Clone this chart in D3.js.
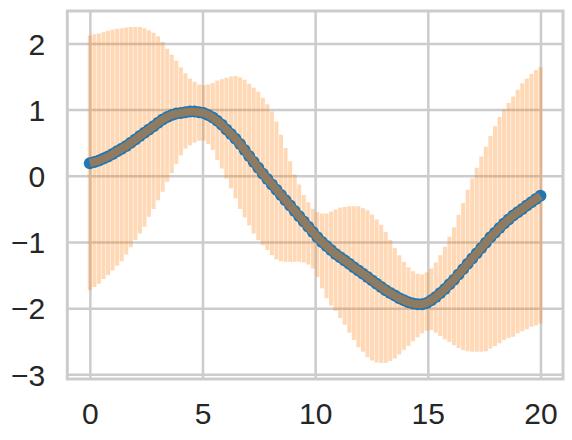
<!DOCTYPE html>
<html>
<head>
<meta charset="utf-8">
<script src="https://cdn.jsdelivr.net/npm/d3@7"></script>
<style>
  html, body { margin: 0; padding: 0; background: #ffffff; }
  svg { display: block; }
</style>
</head>
<body>
<svg id="chart" width="572" height="440"></svg>
<script>
// ---- data ----
const xValues = [0,0.202,0.404,0.606,0.808,1.010,1.212,1.414,1.616,1.818,2.020,2.222,2.424,2.626,2.828,3.030,3.232,3.434,3.636,3.838,4.040,4.242,4.444,4.646,4.848,5.051,5.253,5.455,5.657,5.859,6.061,6.263,6.465,6.667,6.869,7.071,7.273,7.475,7.677,7.879,8.081,8.283,8.485,8.687,8.889,9.091,9.293,9.495,9.697,9.899,10.101,10.303,10.505,10.707,10.909,11.111,11.313,11.515,11.717,11.919,12.121,12.323,12.525,12.727,12.929,13.131,13.333,13.535,13.737,13.939,14.141,14.343,14.545,14.747,14.949,15.152,15.354,15.556,15.758,15.960,16.162,16.364,16.566,16.768,16.970,17.172,17.374,17.576,17.778,17.980,18.182,18.384,18.586,18.788,18.990,19.192,19.394,19.596,19.798,20.0];

const meanValues = [0.19,0.21,0.23,0.26,0.29,0.33,0.37,0.41,0.45,0.5,0.55,0.6,0.65,0.7,0.75,0.8,0.85,0.89,0.92,0.94,0.95,0.96,0.97,0.97,0.96,0.95,0.92,0.88,0.83,0.77,0.7,0.63,0.56,0.48,0.39,0.3,0.21,0.12,0.03,-0.05,-0.13,-0.21,-0.29,-0.37,-0.45,-0.53,-0.61,-0.69,-0.77,-0.85,-0.93,-1.0,-1.06,-1.12,-1.18,-1.23,-1.28,-1.33,-1.38,-1.43,-1.48,-1.53,-1.58,-1.63,-1.68,-1.73,-1.77,-1.81,-1.85,-1.88,-1.91,-1.93,-1.94,-1.94,-1.92,-1.88,-1.83,-1.77,-1.71,-1.64,-1.57,-1.49,-1.41,-1.33,-1.25,-1.17,-1.09,-1.01,-0.93,-0.86,-0.79,-0.72,-0.66,-0.6,-0.55,-0.5,-0.45,-0.4,-0.35,-0.3];

const upperValues = [2.12,2.14,2.15,2.17,2.19,2.21,2.22,2.23,2.24,2.25,2.25,2.25,2.23,2.2,2.16,2.11,2.02,1.92,1.83,1.74,1.64,1.55,1.47,1.42,1.38,1.37,1.38,1.4,1.44,1.46,1.48,1.5,1.51,1.49,1.45,1.39,1.33,1.27,1.18,1.08,0.97,0.82,0.62,0.42,0.22,0.02,-0.13,-0.29,-0.4,-0.5,-0.55,-0.57,-0.57,-0.54,-0.51,-0.48,-0.47,-0.46,-0.46,-0.46,-0.49,-0.52,-0.59,-0.66,-0.74,-0.85,-0.97,-1.09,-1.2,-1.3,-1.38,-1.44,-1.48,-1.49,-1.46,-1.4,-1.31,-1.2,-1.07,-0.92,-0.78,-0.59,-0.41,-0.21,-0.04,0.12,0.29,0.44,0.6,0.75,0.89,1.0,1.1,1.2,1.3,1.4,1.47,1.54,1.6,1.64];

const lowerValues = [-1.73,-1.68,-1.63,-1.56,-1.5,-1.43,-1.36,-1.29,-1.19,-1.08,-0.97,-0.87,-0.77,-0.62,-0.5,-0.37,-0.24,-0.09,0.04,0.18,0.31,0.41,0.46,0.5,0.53,0.53,0.48,0.39,0.24,0.11,-0.04,-0.19,-0.34,-0.5,-0.63,-0.75,-0.87,-0.97,-1.05,-1.12,-1.2,-1.26,-1.29,-1.3,-1.3,-1.3,-1.3,-1.31,-1.34,-1.4,-1.53,-1.7,-1.85,-1.96,-2.04,-2.15,-2.25,-2.37,-2.48,-2.59,-2.66,-2.74,-2.79,-2.82,-2.83,-2.83,-2.8,-2.76,-2.7,-2.63,-2.57,-2.5,-2.44,-2.38,-2.34,-2.33,-2.37,-2.42,-2.47,-2.51,-2.56,-2.6,-2.63,-2.65,-2.66,-2.66,-2.66,-2.65,-2.61,-2.57,-2.53,-2.48,-2.45,-2.43,-2.38,-2.35,-2.32,-2.28,-2.26,-2.23];

const xTicks = [0, 5, 10, 15, 20];
const yTicks = [-3, -2, -1, 0, 1, 2];

// ---- layout ----
const svg = d3.select("#chart");
const plotLeft = 67.3, plotRight = 563, plotTop = 11, plotBottom = 379;
const x = d3.scaleLinear().domain([-1, 21]).range([plotLeft, plotRight]);
const y = d3.scaleLinear().domain([-3.07, 2.49]).range([plotBottom, plotTop]);

const gridColor = "#cccccc";
const textColor = "#262626";
const font = "'Liberation Sans', Arial, sans-serif";

const pts = xValues.map((v, i) => ({x: v, m: meanValues[i], lo: lowerValues[i], hi: upperValues[i]}));

// grid via axes
const gx = svg.append("g").attr("transform", `translate(0,${plotBottom})`)
  .call(d3.axisBottom(x).tickValues(xTicks).tickSize(-(plotBottom - plotTop)).tickFormat(d3.format("d")));
gx.select(".domain").remove();
gx.selectAll(".tick line").attr("stroke", gridColor).attr("stroke-width", 2.5);
gx.selectAll(".tick text")
  .attr("fill", textColor).attr("font-family", font).attr("font-size", 30)
  .attr("y", 0).attr("dy", 0).attr("transform", "translate(0,45)");

const gy = svg.append("g").attr("transform", `translate(${plotLeft},0)`)
  .call(d3.axisLeft(y).tickValues(yTicks).tickSize(-(plotRight - plotLeft)).tickFormat(d3.format("d")));
gy.select(".domain").remove();
gy.selectAll(".tick line").attr("stroke", gridColor).attr("stroke-width", 2.5);
gy.selectAll(".tick text")
  .attr("fill", textColor).attr("font-family", font).attr("font-size", 30)
  .attr("x", -22).attr("dy", "0.36em");

// error bars
svg.append("g").selectAll("line").data(pts).join("line")
  .attr("x1", d => x(d.x)).attr("x2", d => x(d.x))
  .attr("y1", d => y(d.lo)).attr("y2", d => y(d.hi))
  .attr("stroke", "#ff7f0e").attr("stroke-opacity", 0.3)
  .attr("stroke-width", 4).attr("stroke-linecap", "butt");

// points
svg.append("g").selectAll("circle").data(pts).join("circle")
  .attr("cx", d => x(d.x)).attr("cy", d => y(d.m)).attr("r", 6)
  .attr("fill", "#1f77b4");

// mean line
svg.append("path").datum(pts)
  .attr("d", d3.line().x(d => x(d.x)).y(d => y(d.m)))
  .attr("fill", "none").attr("stroke", "#ff7f0e").attr("stroke-opacity", 0.5)
  .attr("stroke-width", 8).attr("stroke-linejoin", "round");

// spines
svg.append("rect")
  .attr("x", plotLeft).attr("y", plotTop).attr("width", plotRight - plotLeft).attr("height", plotBottom - plotTop)
  .attr("fill", "none").attr("stroke", gridColor).attr("stroke-width", 3);
</script>
</body>
</html>
